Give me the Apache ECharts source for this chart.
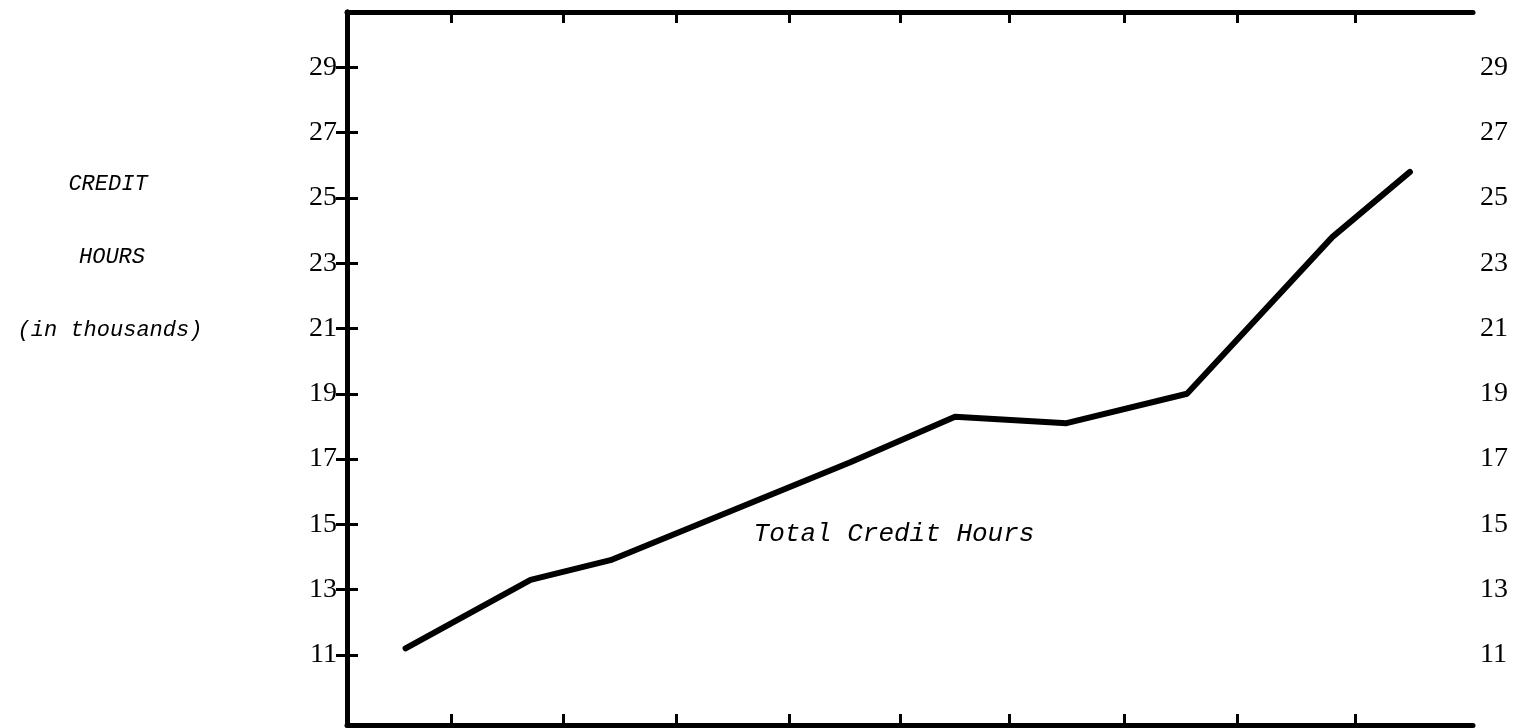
<!DOCTYPE html>
<html>
<head>
<meta charset="utf-8">
<script src="https://cdn.jsdelivr.net/npm/echarts@6/dist/echarts.min.js"></script>
<style>
  html, body { margin: 0; padding: 0; background: #fff; }
  #container { width: 1515px; height: 728px; }
</style>
</head>
<body>
<div id="container"></div>
<script>
// x positions in box units (0..10 across the frame)
var xPos = [0.52, 1.63, 2.34, 4.47, 5.40, 6.39, 7.46, 8.75, 9.44];
var creditHours = [11.2, 13.3, 13.9, 16.9, 18.3, 18.1, 19.0, 23.8, 25.8];
var yTicks = [11, 13, 15, 17, 19, 21, 23, 25, 27, 29];
// hand-drawn tick marks on top and bottom edges, same units as xPos
var xTicks = [0.93, 1.92, 2.92, 3.93, 4.91, 5.88, 6.90, 7.91, 8.95];

window.onload = function() {

var chartDom = document.getElementById('container');
var myChart = echarts.init(chartDom);
var option;

var serif = '"Liberation Serif", "DejaVu Serif", serif';
var mono = '"Liberation Mono", "DejaVu Sans Mono", monospace';

var points = xPos.map(function (x, i) { return [x, creditHours[i]]; });

function yAxisBase(pos) {
  return {
    type: 'value',
    position: pos,
    min: 8.85,
    max: 30.7,
    axisLine: { show: true, lineStyle: { color: '#000', width: 5 } },
    axisTick: {
      show: true, inside: true, length: 11,
      customValues: yTicks,
      lineStyle: { color: '#000', width: 3 }
    },
    axisLabel: {
      show: true, inside: false,
      customValues: yTicks,
      margin: pos === 'left' ? 10 : 7,
      color: '#000',
      fontFamily: serif,
      fontSize: 28
    },
    splitLine: { show: false }
  };
}

function xAxisBase(pos) {
  return {
    type: 'value',
    position: pos,
    min: 0,
    max: 10,
    interval: 1,
    axisLine: { show: true, onZero: false, lineStyle: { color: '#000', width: 5 } },
    axisTick: {
      show: true, inside: true, length: 11,
      customValues: xTicks,
      lineStyle: { color: '#000', width: 3 }
    },
    axisLabel: { show: false },
    splitLine: { show: false }
  };
}

option = {
  backgroundColor: '#fff',
  animation: false,
  grid: { left: 347, right: 42, top: 12, bottom: 3, containLabel: false },
  xAxis: [xAxisBase('bottom'), xAxisBase('top')],
  yAxis: [yAxisBase('left'), yAxisBase('right')],
  graphic: [
    {
      type: 'text', x: 108, y: 184,
      style: { text: 'CREDIT', font: 'italic 22px ' + mono, fill: '#000', align: 'center', verticalAlign: 'middle' }
    },
    {
      type: 'text', x: 112, y: 257,
      style: { text: 'HOURS', font: 'italic 22px ' + mono, fill: '#000', align: 'center', verticalAlign: 'middle' }
    },
    {
      type: 'text', x: 110, y: 330,
      style: { text: '(in thousands)', font: 'italic 22px ' + mono, fill: '#000', align: 'center', verticalAlign: 'middle' }
    },
    {
      type: 'text', x: 894, y: 534,
      style: { text: 'Total Credit Hours', font: 'italic 26px ' + mono, fill: '#000', align: 'center', verticalAlign: 'middle' }
    }
  ],
  series: [
    {
      name: 'Total Credit Hours',
      type: 'line',
      xAxisIndex: 0,
      yAxisIndex: 0,
      data: points,
      symbol: 'none',
      lineStyle: { color: '#000', width: 6, cap: 'round', join: 'round' }
    }
  ]
};

option && myChart.setOption(option);

}
</script>
</body>
</html>
